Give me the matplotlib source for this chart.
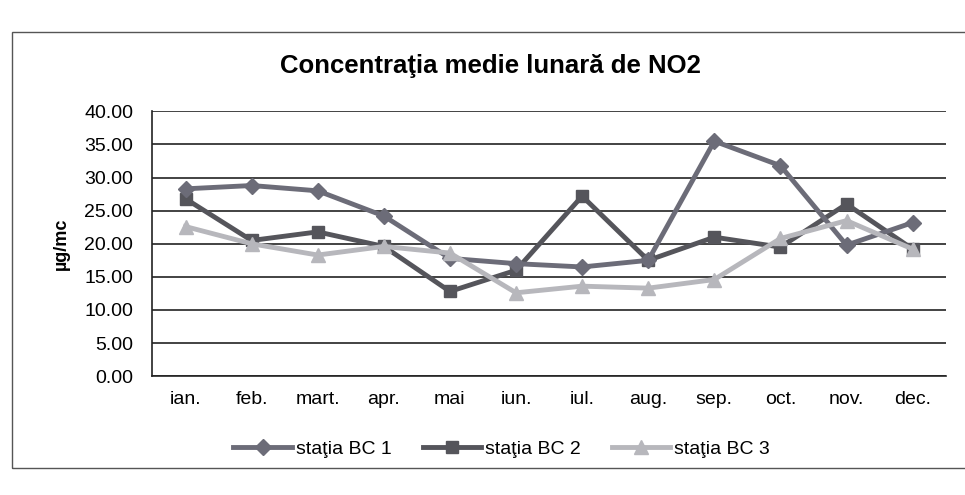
import matplotlib.pyplot as plt
from matplotlib.patches import Rectangle

plt.rcParams['font.family'] = ['Liberation Sans', 'DejaVu Sans']

months = ['ian.', 'feb.', 'mart.', 'apr.', 'mai', 'iun.', 'iul.', 'aug.',
          'sep.', 'oct.', 'nov.', 'dec.']
bc1 = [28.3, 28.8, 28.0, 24.2, 17.8, 17.0, 16.5, 17.5, 35.5, 31.8, 19.8, 23.2]
bc2 = [26.8, 20.5, 21.8, 19.6, 12.8, 16.0, 27.2, 17.5, 21.0, 19.5, 26.0, 19.2]
bc3 = [22.6, 20.0, 18.3, 19.6, 18.6, 12.6, 13.6, 13.3, 14.6, 20.8, 23.5, 19.2]
labels = ['staţia BC 1', 'staţia BC 2', 'staţia BC 3']
yticks = [0, 5, 10, 15, 20, 25, 30, 35, 40]

fig = plt.figure(figsize=(9.65, 4.95), dpi=100)
ax = fig.add_axes([0.158, 0.24, 0.822, 0.535])

# outer chart frame
fig.patches.append(Rectangle((0.012, 0.055), 1.1, 0.88, transform=fig.transFigure,
                             fill=False, edgecolor='#555555', linewidth=1.0))

x = list(range(len(months)))
ax.plot(x, bc1, color='#6c6c78', marker='D', markersize=8.5, linewidth=3.5,
        label=labels[0], zorder=4)
ax.plot(x, bc2, color='#55555b', marker='s', markersize=8.5, linewidth=3.5,
        label=labels[1], zorder=3)
ax.plot(x, bc3, color='#b7b7bc', marker='^', markersize=10, linewidth=3.5,
        label=labels[2], zorder=5)

ax.set_xlim(-0.5, 11.5)
ax.set_ylim(0, 40)
ax.set_yticks(yticks)
ax.set_yticklabels([f'{v:.2f}' for v in yticks], fontsize=14)
ax.set_xticks(x)
ax.set_xticklabels(months, fontsize=14)
ax.tick_params(axis='y', length=0, pad=14)
ax.tick_params(axis='x', length=0, pad=11)
ax.yaxis.grid(True, color='#222222', linewidth=1.2)
ax.set_axisbelow(True)
for side in ['top', 'right']:
    ax.spines[side].set_visible(False)
for side in ['left', 'bottom']:
    ax.spines[side].set_color('#222222')
    ax.spines[side].set_linewidth(1.2)

ax.set_ylabel('µg/mc', fontsize=13, fontweight='bold', labelpad=10)
fig.text(0.508, 0.867, 'Concentraţia medie lunară de NO2', ha='center', va='center',
         fontsize=18.5, fontweight='bold')

ax.legend(loc='center', bbox_to_anchor=(0.44, -0.275), ncol=3, frameon=False,
          fontsize=14, handlelength=3, columnspacing=1.6, handletextpad=0.2)

fig.savefig('out.png', dpi=100)
